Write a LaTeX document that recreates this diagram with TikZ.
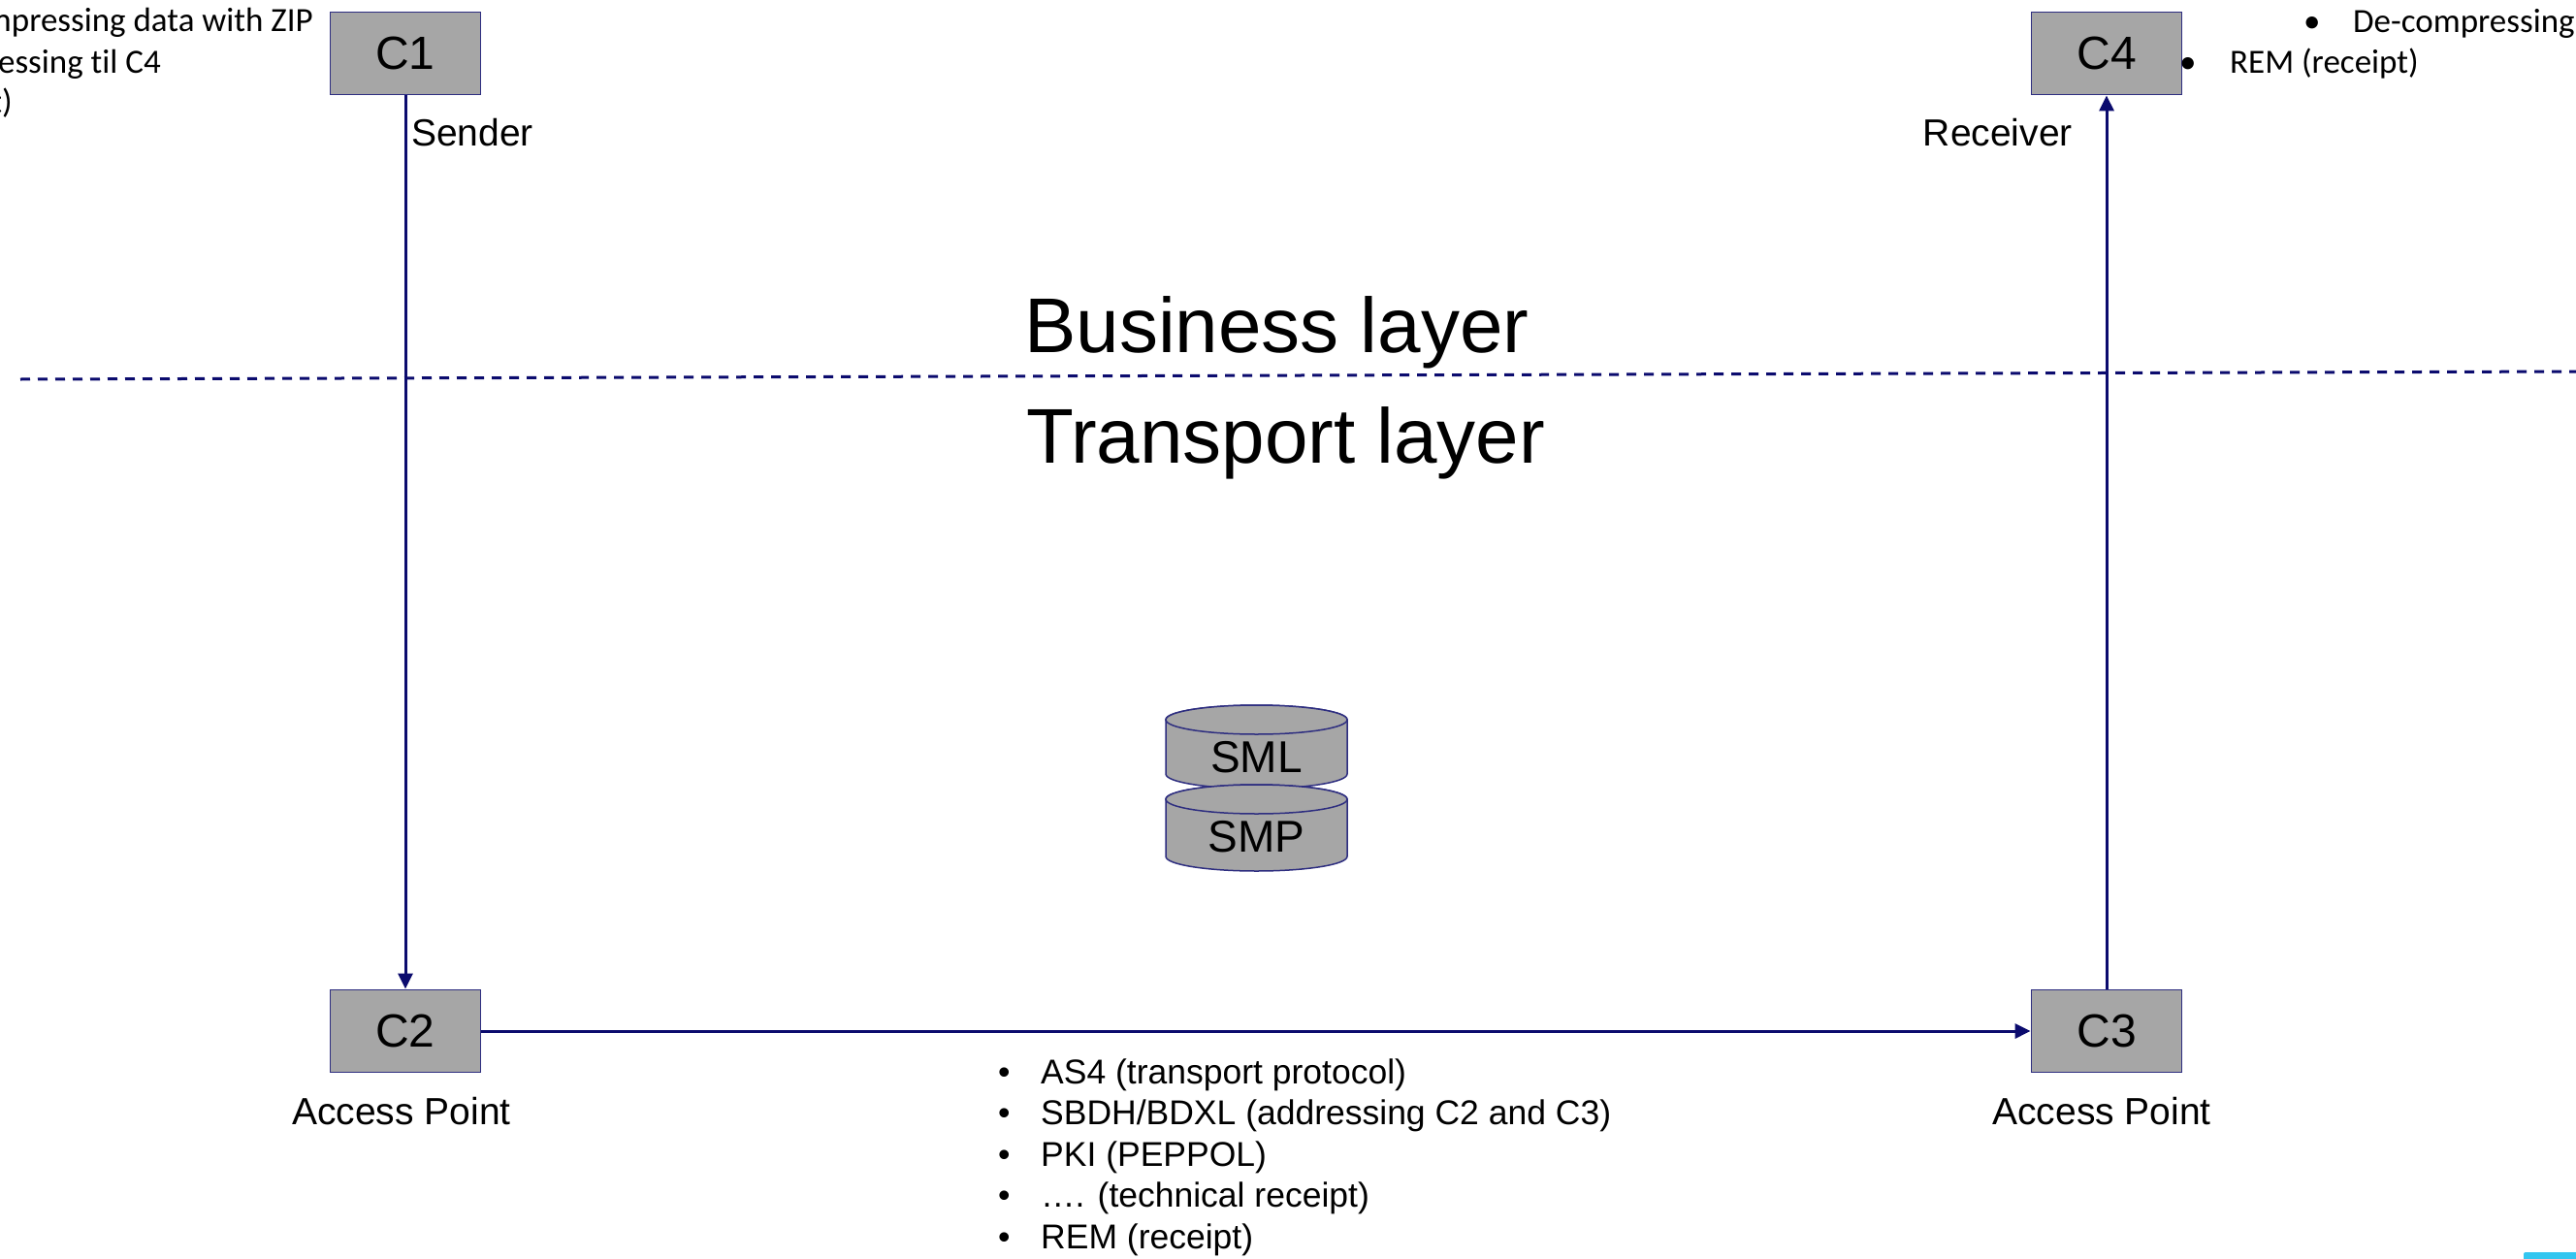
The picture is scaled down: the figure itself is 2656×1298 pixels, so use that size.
\documentclass[tikz,border=0pt]{standalone}
\usepackage{fontspec}
\setmainfont{Liberation Sans}
\newfontfamily\calibri[Ligatures=NoCommon]{Carlito}
\usetikzlibrary{arrows.meta}
\definecolor{navyline}{HTML}{0B0B6E}
\definecolor{boxfill}{HTML}{A6A6A6}
\definecolor{boxline}{HTML}{2E2E80}
\definecolor{cyanmark}{HTML}{33C6F0}
\begin{document}
\begin{tikzpicture}[x=1pt,y=-1pt,
  cbox/.style={draw=boxline, line width=1.8pt, fill=boxfill, minimum width=155pt, minimum height=85pt, inner sep=0pt, font=\fontsize{48}{58}\selectfont},
  conn/.style={draw=navyline, line width=3pt, -{Triangle[length=16pt,width=15pt]}},
  lbl/.style={inner sep=0pt, font=\fontsize{39}{47}\selectfont},
  layer/.style={inner sep=0pt, anchor=base west, font=\fontsize{80}{96}\selectfont},
  blt/.style={inner sep=0pt, anchor=base west, font=\fontsize{35.5}{43}\selectfont},
  cal/.style={inner sep=0pt, font=\calibri\fontsize{35}{42}\selectfont},
  cyl/.style={fill=boxfill, draw=boxline, line width=1.5pt},
  cyltext/.style={inner sep=0pt, anchor=base, font=\fontsize{46}{55}\selectfont},
  sep/.style={draw=navyline, line width=3pt, dash pattern=on 10pt off 8pt}
]
\useasboundingbox (0,0) rectangle (2656,1298);
\clip (0,0) rectangle (2656,1298);
\fill[white] (0,0) rectangle (2656,1298);

% layer separator
\coordinate (dl) at (21,391);
\coordinate (dr) at (2660,383);
\draw[sep] (dl) -- (dr);

% corner boxes
\node[cbox] (c1) at (418,55) {C1};
\node[cbox] (c2) at (418,1063) {C2};
\node[cbox] (c3) at (2172,1063) {C3};
\node[cbox] (c4) at (2172,55) {C4};

% connectors
\draw[conn] (c1) -- (c2);
\draw[conn] (c2) -- (c3);
\draw[conn] (c3) -- (c4);

% labels
\node[lbl, anchor=west] (sender) at (424,137) {Sender};
\node[lbl, anchor=east] (receiver) at (2137,137) {Receiver};
\node[lbl] (ap2) at (414,1146) {Access Point};
\node[lbl] (ap3) at (2167,1146) {Access Point};

% layer titles
\node[layer] (business) at (1056,363) {Business layer};
\node[layer] (transport) at (1058,477) {Transport layer};

% SML / SMP cylinders
\path[cyl] (1202,742) -- (1202,798) arc[start angle=180,end angle=360,x radius=93.5pt,y radius=15pt] -- (1389,742) arc[start angle=0,end angle=180,x radius=93.5pt,y radius=15pt] -- cycle;
\path[cyl] (1295.5,742) ellipse [x radius=93.5pt, y radius=15pt];
\node[cyltext] (sml) at (1295.5,796) {SML};
\path[cyl] (1202,824) -- (1202,883) arc[start angle=180,end angle=360,x radius=93.5pt,y radius=15pt] -- (1389,824) arc[start angle=0,end angle=180,x radius=93.5pt,y radius=15pt] -- cycle;
\path[cyl] (1295.5,824) ellipse [x radius=93.5pt, y radius=15pt];
\node[cyltext] (smp) at (1295.5,878) {SMP};

% transport list
\node[blt] (p1) at (1029,1117) {\makebox[44pt][l]{•}AS4 (transport protocol)};
\node[blt] (p2) at (1029,1159.5) {\makebox[44pt][l]{•}SBDH/BDXL (addressing C2 and C3)};
\node[blt] (p3) at (1029,1202) {\makebox[44pt][l]{•}PKI (PEPPOL)};
\node[blt] (p4) at (1029,1244.5) {\makebox[44pt][l]{•}…. (technical receipt)};
\node[blt] (p5) at (1029,1287) {\makebox[44pt][l]{•}REM (receipt)};

% top-left text (cut by the edge)
\node[cal, anchor=base east] (l1) at (323,33) {mpressing data with ZIP};
\node[cal, anchor=base east] (l2) at (166,75) {essing til C4};
\node[cal, anchor=base east] (l3) at (13,117) {t)};

% top-right text (cut by the edge)
\node[cal, anchor=base west] (r1) at (2375,34) {\makebox[51pt][l]{•}De-compressing};
\node[cal, anchor=base west] (r2) at (2247,75) {\makebox[52pt][l]{•}REM (receipt)};

% corner mark
\fill[cyanmark, rounded corners=2pt] (2602,1291) rectangle (2670,1310);
\end{tikzpicture}
\end{document}
